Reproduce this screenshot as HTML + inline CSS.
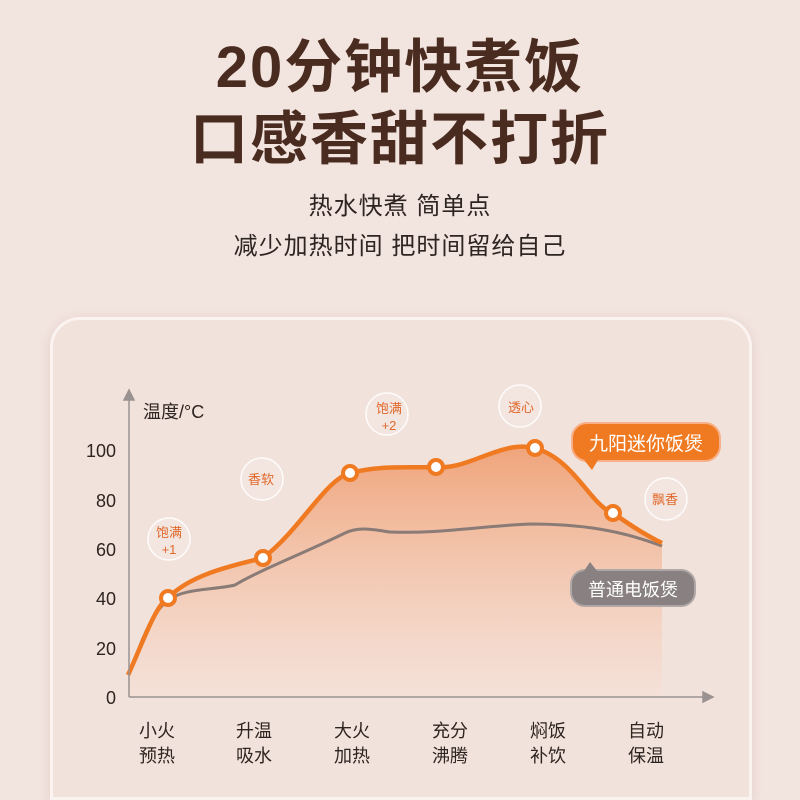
<!DOCTYPE html>
<html><head><meta charset="utf-8"><style>
html,body{margin:0;width:800px;height:800px;overflow:hidden}
body{background:#f2e4df;font-family:"Liberation Sans","Noto Sans CJK SC",sans-serif;position:relative}
.t{position:absolute;left:0;width:800px;text-align:center;color:#4a2b1f;font-weight:bold}
.s{position:absolute;left:0;width:800px;text-align:center;color:#2e2420;font-size:24px;letter-spacing:1px}
.card{position:absolute;left:50px;top:317px;width:696px;height:477px;border-radius:30px 30px 0 0;border-bottom:none;background:#f2e2dc;border:3px solid #fbf3f0;box-shadow:0 2px 10px rgba(200,160,150,.3)}
svg{position:absolute;left:0;top:0}
</style></head><body>
<div class="t" style="top:20px;font-size:58px;letter-spacing:2px">20分钟快煮饭</div>
<div class="t" style="top:92px;font-size:58px;letter-spacing:2px">口感香甜不打折</div>
<div class="s" style="top:186px">热水快煮 简单点</div>
<div class="s" style="top:226px">减少加热时间 把时间留给自己</div>
<div class="card"></div>
<svg width="800" height="800" font-family="Liberation Sans, Noto Sans CJK SC, sans-serif">
<defs><linearGradient id="g" x1="0" y1="0" x2="0" y2="1"><stop offset="0" stop-color="#f0a47a"/><stop offset="1" stop-color="#f6e0d6" stop-opacity=".6"/></linearGradient></defs>
<path d="M128,675 C140,650 155,605 168,598 C190,575 230,566 263,558 C300,530 325,480 350,473 C380,465 410,468 436,467 C470,470 500,440 535,448 C575,460 590,505 613,513 C630,525 645,535 662,543 L662,697 L128,697 Z" fill="url(#g)"/>
<path d="M130,672 C140,645 150,615 168,600 C185,588 215,590 235,585 C260,570 300,555 345,533 C360,526 375,530 390,532 C440,534 480,526 530,524 C580,524 620,530 662,546" fill="none" stroke="#8a7b76" stroke-width="3"/>
<path d="M128,675 C140,650 155,605 168,598 C190,575 230,566 263,558 C300,530 325,480 350,473 C380,465 410,468 436,467 C470,470 500,440 535,448 C575,460 590,505 613,513 C630,525 645,535 662,543" fill="none" stroke="#f07a22" stroke-width="4.5"/>
<g fill="#fff" stroke="#f07a22" stroke-width="4">
<circle cx="168" cy="598" r="7"/><circle cx="263" cy="558" r="7"/><circle cx="350" cy="473" r="7"/><circle cx="436" cy="467" r="7"/><circle cx="535" cy="448" r="7"/><circle cx="613" cy="513" r="7"/></g>
<g stroke="#9a9290" stroke-width="1.5" fill="#9a9290"><line x1="129" y1="395" x2="129" y2="697"/><line x1="129" y1="697" x2="708" y2="697"/><path d="M124,400 L129,390 L134,400Z"/><path d="M703,692 L713,697 L703,702Z"/></g>
<g font-size="18" fill="#2e2420" text-anchor="end"><text x="116" y="457">100</text><text x="116" y="507">80</text><text x="116" y="556">60</text><text x="116" y="605">40</text><text x="116" y="655">20</text><text x="116" y="704">0</text></g>
<text x="143" y="418" font-size="18" fill="#2e2420">温度/°C</text>
<g font-size="18" fill="#2e2420" text-anchor="middle">
<text x="157" y="737">小火</text><text x="157" y="762">预热</text>
<text x="254" y="737">升温</text><text x="254" y="762">吸水</text>
<text x="352" y="737">大火</text><text x="352" y="762">加热</text>
<text x="450" y="737">充分</text><text x="450" y="762">沸腾</text>
<text x="548" y="737">焖饭</text><text x="548" y="762">补饮</text>
<text x="646" y="737">自动</text><text x="646" y="762">保温</text></g>
<g fill="#f4e6e1" stroke="#fff" stroke-width="1.5" opacity=".9">
<circle cx="169" cy="539" r="21"/><circle cx="262" cy="479" r="21"/><circle cx="387" cy="414" r="21"/><circle cx="520" cy="406" r="21"/><circle cx="666" cy="499" r="21"/></g>
<g font-size="13" fill="#e0682a" text-anchor="middle">
<text x="169" y="537">饱满</text><text x="169" y="554">+1</text>
<text x="261" y="484">香软</text>
<text x="389" y="413">饱满</text><text x="389" y="430">+2</text>
<text x="521" y="412">透心</text>
<text x="665" y="504">飘香</text></g>
<rect x="572" y="423" width="148" height="38" rx="15" fill="#f07a22" stroke="#f8b088" stroke-width="2"/>
<path d="M584,460 L592,470 L598,460Z" fill="#f07a22"/>
<text x="646" y="450" font-size="19" fill="#fff" text-anchor="middle">九阳迷你饭煲</text>
<rect x="571" y="570" width="124" height="36" rx="14" fill="#888081" stroke="#b0a8a6" stroke-width="2"/>
<path d="M584,571 L590,562 L597,571Z" fill="#888081"/>
<text x="633" y="596" font-size="18" fill="#fff" text-anchor="middle">普通电饭煲</text>
</svg>
</body></html>
